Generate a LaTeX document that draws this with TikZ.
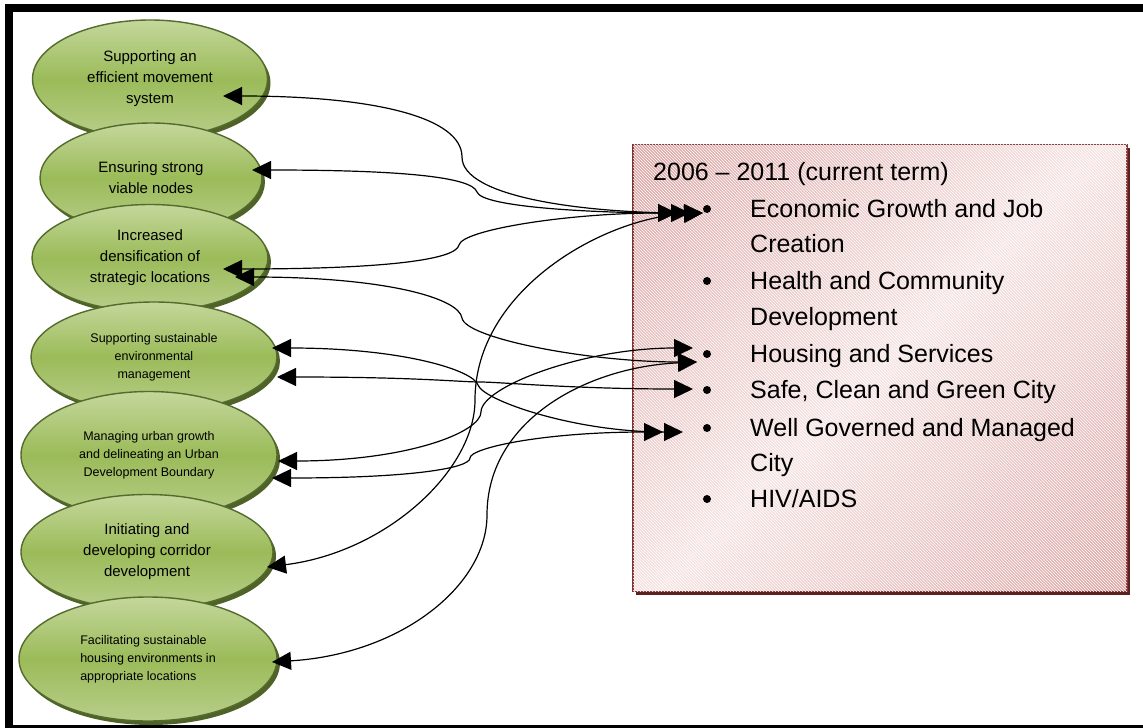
\documentclass[tikz,border=0pt]{standalone}
\usepackage{fontspec}
\setmainfont{Liberation Sans}
\usetikzlibrary{shapes.geometric,shadows,patterns,arrows.meta}
\definecolor{oliveline}{HTML}{536B2C}
\definecolor{oliveshade}{HTML}{4F6228}
\definecolor{olivetop}{HTML}{C4D79B}
\definecolor{olivemid}{HTML}{9BBB59}
\definecolor{olivebot}{HTML}{B8CE8A}
\definecolor{termline}{HTML}{7F3030}
\definecolor{termshade}{HTML}{5E2020}
\definecolor{termdark}{HTML}{D28A89}
\definecolor{termlight}{HTML}{F6E4E3}
\pgfdeclareverticalshading{termshading}{100bp}{color(0bp)=(termdark); color(50bp)=(termlight); color(100bp)=(termdark)}

\begin{document}
\begin{tikzpicture}
  [x=1pt, y=-1pt,
   goal/.style={ellipse, draw=oliveline, line width=1.4pt, top color=olivetop, bottom color=olivebot, middle color=olivemid,
     drop shadow={shadow xshift=3pt, shadow yshift=-4pt, fill=oliveshade, opacity=1},
     align=center, inner sep=0pt, font=\fontsize{15}{21}\selectfont},
   smallgoal/.style={goal, font=\fontsize{12.5}{18}\selectfont},
   termbox/.style={rectangle, draw=termline, line width=1.5pt, shade, shading=termshading, shading angle=45,
     drop shadow={shadow xshift=3pt, shadow yshift=-3pt, fill=termshade, opacity=1},
     postaction={pattern=north west lines, pattern color=white, fill opacity=.1}},
   item/.style={anchor=base west, inner sep=0pt, font=\fontsize{25}{30}\selectfont},
   dot/.style={circle, fill=black, inner sep=0pt, minimum size=8pt},
   link/.style={line width=1.2pt, {Triangle[length=19pt,width=18pt]}-{Triangle[length=19pt,width=18pt]}}]
  \useasboundingbox (0,0) rectangle (1143,728);
  \clip (0,0) rectangle (1143,728);
  \draw[line width=8pt] (9,8) rectangle (1170,729);

  % strategies
  \node[goal, minimum width=235pt, minimum height=118pt] (movement) at (150,79) {Supporting an\\efficient movement\\system};
  \node[goal, minimum width=222pt, minimum height=110pt] (nodes) at (151,178) {Ensuring strong\\viable nodes};
  \node[goal, minimum width=236pt, minimum height=107pt] (densify) at (150,258) {Increased\\densification of\\strategic locations};
  \node[smallgoal, minimum width=246pt, minimum height=110pt] (environ) at (154,357) {Supporting sustainable\\environmental\\management};
  \node[smallgoal, minimum width=256pt, minimum height=127pt] (urban) at (149,455) {Managing urban growth\\and delineating an Urban\\Development Boundary};
  \node[goal, minimum width=252pt, minimum height=115pt] (corridor) at (147,552) {Initiating and\\developing corridor\\development};
  \node[smallgoal, align=left, minimum width=258pt, minimum height=124pt] (housing) at (148,659) {Facilitating sustainable\\housing environments in\\appropriate locations};

  % term priorities
  \node[termbox, minimum width=494pt, minimum height=447pt] (term) at (880,368) {};
  \node[item] (head) at (653,180) {2006 – 2011 (current term)};
  \node[dot] (bEcon) at (707,209) {};
  \node[item] (econ) at (750,217) {Economic Growth and Job};
  \node[item] (econ2) at (750,252) {Creation};
  \node[dot] (bHealth) at (707,281) {};
  \node[item] (health) at (750,289) {Health and Community};
  \node[item] (health2) at (750,325) {Development};
  \node[dot] (bHouse) at (707,354) {};
  \node[item] (house) at (750,362) {Housing and Services};
  \node[dot] (bSafe) at (707,390) {};
  \node[item] (safe) at (750,398) {Safe, Clean and Green City};
  \node[dot] (bWell) at (707,428) {};
  \node[item] (well) at (750,436) {Well Governed and Managed};
  \node[item] (well2) at (750,471) {City};
  \node[dot] (bHiv) at (707,499) {};
  \node[item] (hiv) at (750,507) {HIV/AIDS};

  % links
  \draw[link] ([shift={(73,17)}]movement.center) .. controls +(150,0) and +(0,-40) .. (462,157)
    .. controls +(0,40) and +(-120,0) .. ([shift={(-4,4)}]bEcon.center);
  \draw[link] ([shift={(101,-8)}]nodes.center) .. controls +(150,0) and +(-5,-15) .. (477,192)
    .. controls +(5,15) and +(-100,0) .. ([shift={(-17,4)}]bEcon.center);
  \draw[link] ([shift={(73,11)}]densify.center) .. controls +(160,0) and +(-3,15) .. (459,245)
    .. controls +(3,-15) and +(-110,0) .. ([shift={(-30,4)}]bEcon.center);
  \draw[link] ([shift={(85,19)}]densify.center) .. controls +(150,0) and +(-3,-20) .. (462,318)
    .. controls +(3,20) and +(-110,0) .. ([shift={(-10,8)}]bHouse.center);
  \draw[link] ([shift={(120,15)}]corridor.center) .. controls +(120,-15) and +(0,70) .. (475,400)
    .. controls +(0,-110) and +(-100,5) .. ([shift={(-4,4)}]bEcon.center);
  \draw[link] ([shift={(118,-9)}]environ.center) .. controls +(130,0) and +(-5,-15) .. (478,385)
    .. controls +(5,15) and +(-110,0) .. ([shift={(-24,4)}]bWell.center);
  \draw[link] ([shift={(123,20)}]environ.center) .. controls +(140,0) and +(-20,0) .. (480,382)
    .. controls +(20,0) and +(-120,0) .. ([shift={(-14,-1)}]bSafe.center);
  \draw[link] ([shift={(129,6)}]urban.center) .. controls +(130,0) and +(0,20) .. (481,412)
    .. controls +(0,-25) and +(-110,0) .. ([shift={(-14,-6)}]bHouse.center);
  \draw[link] ([shift={(123,23)}]urban.center) .. controls +(140,0) and +(0,10) .. (470,458)
    .. controls +(0,-10) and +(-120,0) .. ([shift={(-44,4)}]bWell.center);
  \draw[link] ([shift={(124,3)}]housing.center) .. controls +(130,-8) and +(0,70) .. (487,515)
    .. controls +(0,-95) and +(-110,5) .. ([shift={(-10,8)}]bHouse.center);
\end{tikzpicture}
\end{document}
